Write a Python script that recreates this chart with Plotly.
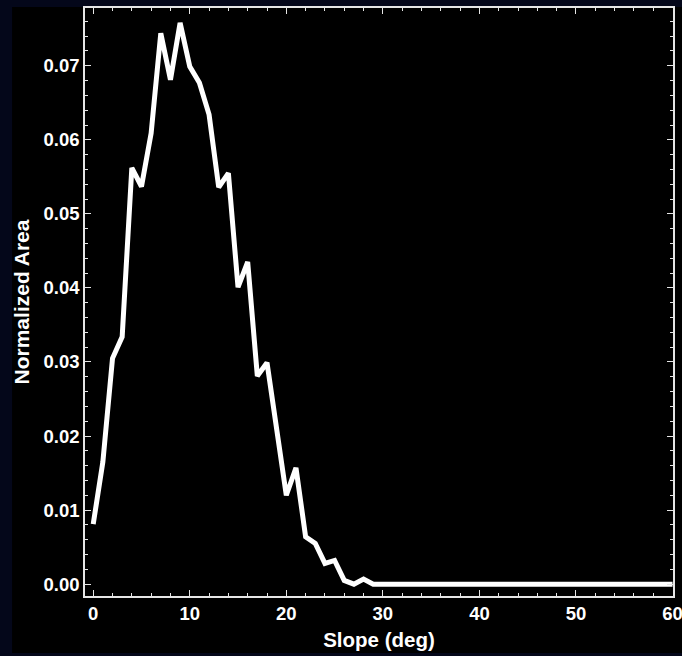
import plotly.graph_objects as go

slope_deg = list(range(0, 61))
normalized_area = [
    0.0081, 0.0165, 0.0305, 0.0334, 0.0562, 0.0537, 0.0609, 0.0744, 0.0681, 0.0758,
    0.0699, 0.0677, 0.0634, 0.0536, 0.0555, 0.0401, 0.0435, 0.0281, 0.0299, 0.0207,
    0.0120, 0.0157, 0.0064, 0.0055, 0.0028, 0.0032, 0.0005, 0.0000, 0.0007, 0.0000,
] + [0.0] * 31

x_ticks = [0, 10, 20, 30, 40, 50, 60]
y_ticks = [0.00, 0.01, 0.02, 0.03, 0.04, 0.05, 0.06, 0.07]

font_family = "Liberation Sans, Arial, sans-serif"
axis_color = "#e6e6e6"

fig = go.Figure()
fig.add_trace(go.Scatter(
    x=slope_deg, y=normalized_area, mode="lines",
    line=dict(color="white", width=5),
    showlegend=False, hoverinfo="skip",
))

common = dict(
    showgrid=False, zeroline=False, automargin=False, ticklabeloverflow="allow",
    showline=True, linecolor=axis_color, linewidth=1.5, mirror="ticks",
    ticks="inside", ticklen=6, tickwidth=1.2, tickcolor=axis_color,
    tickfont=dict(family=font_family, size=18.5, color="white", weight="bold"),
)

fig.update_xaxes(
    range=[-0.85, 60.05], tickvals=x_ticks, ticktext=[str(v) for v in x_ticks],
    minor=dict(ticks="inside", dtick=2, ticklen=3, tickwidth=1, tickcolor=axis_color),
    title=dict(text="Slope (deg)", standoff=10,
               font=dict(family=font_family, size=20.5, color="white", weight="bold")),
    **common,
)
fig.update_yaxes(
    range=[-0.0016, 0.0778], tickvals=y_ticks, ticktext=[f"{v:.2f}" for v in y_ticks],
    minor=dict(ticks="inside", dtick=0.002, tick0=0, ticklen=3, tickwidth=1, tickcolor=axis_color),
    title=dict(text="Normalized Area", standoff=8,
               font=dict(family=font_family, size=21, color="white", weight="bold")),
    **common,
)

fig.add_shape(type="rect", xref="paper", yref="paper",
              x0=-0.124, x1=1.05, y0=-0.097, y1=1.0017,
              fillcolor="black", line=dict(width=0), layer="below")

fig.update_layout(
    width=682, height=656,
    margin=dict(l=85, r=9, t=8, b=60),
    paper_bgcolor="#04071a", plot_bgcolor="black",
)

fig.write_html(
    "out.html",
    config={"displayModeBar": False},
    post_script="document.body.style.margin='0';document.body.style.overflow='hidden';",
)
